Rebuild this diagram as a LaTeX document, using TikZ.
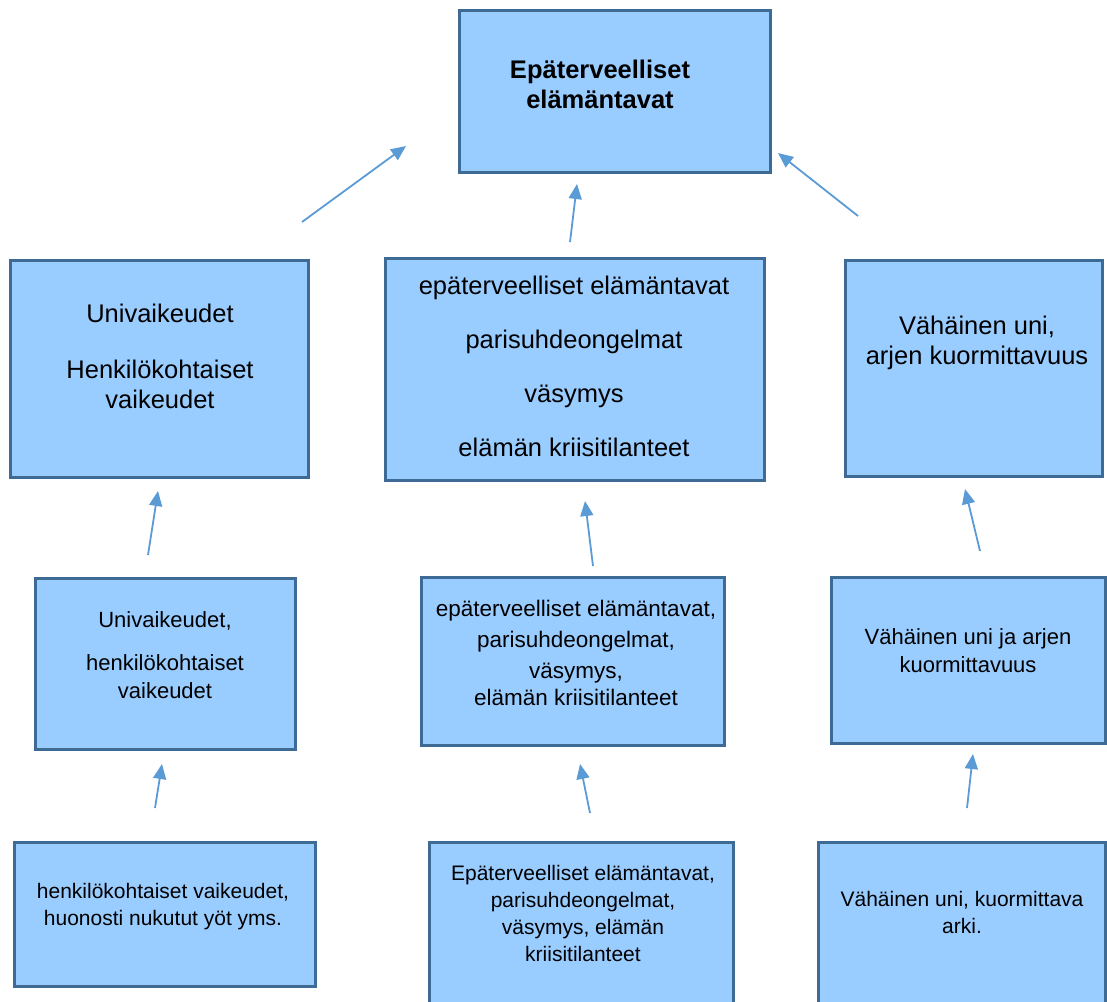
\documentclass[tikz,border=0pt]{standalone}
\usepackage{fontspec}
\setmainfont{Liberation Sans}
\usetikzlibrary{arrows.meta}
\definecolor{boxfill}{RGB}{153,204,255}
\definecolor{boxline}{RGB}{62,106,150}
\definecolor{arrowblue}{RGB}{91,155,213}
\newcommand{\fsA}{\fontsize{25.5}{30}\selectfont}
\newcommand{\fsB}{\fontsize{22}{28}\selectfont}
\newcommand{\fsC}{\fontsize{21}{27}\selectfont}
\begin{document}
\begin{tikzpicture}[x=1pt,y=-1pt,
  box/.style={draw=boxline,fill=boxfill,line width=3pt},
  txt/.style={align=center,inner sep=0pt,text=black},
  up/.style={draw=arrowblue,line width=1.8pt,-{Triangle[length=15pt,width=13pt]}}]
\useasboundingbox (0,0) rectangle (1107,1001);
\clip (0,0) rectangle (1107,1001);

% boxes
\draw[box] (459,10) rectangle (770,172);
\draw[box] (10,260) rectangle (308,477);
\draw[box] (385,258) rectangle (764,480);
\draw[box] (845,260) rectangle (1102,476);
\draw[box] (35,578) rectangle (295,749);
\draw[box] (421,577) rectangle (724,745);
\draw[box] (831,577) rectangle (1105,743);
\draw[box] (14,842) rectangle (315,986);
\draw[box] (429,842) rectangle (733,1012);
\draw[box] (818,842) rectangle (1105,1012);

% texts
\node[txt,font=\fsA\bfseries] (top) at (600,84)
  {Epäterveelliset\\elämäntavat};
\node[txt,font=\fsA] (l2) at (160,356)
  {Univaikeudet\\[26pt]Henkilökohtaiset\\vaikeudet};
\node[txt,font=\fontsize{25.5}{54}\selectfont] (m2) at (574,366)
  {epäterveelliset elämäntavat\\parisuhdeongelmat\\väsymys\\elämän kriisitilanteet};
\node[txt,font=\fsA] (r2) at (977,343)
  {Vähäinen uni,\\arjen kuormittavuus};
\node[txt,font=\fsB] (l3) at (165,655)
  {Univaikeudet,\\[15pt]henkilökohtaiset\\vaikeudet};
\node[txt,font=\fontsize{22.5}{31}\selectfont] (m3) at (576,653)
  {epäterveelliset elämäntavat,\\parisuhdeongelmat,\\väsymys,\\[-4pt]elämän kriisitilanteet};
\node[txt,font=\fsB] (r3) at (968,651)
  {Vähäinen uni ja arjen\\kuormittavuus};
\node[txt,font=\fsC] (l4) at (163,907)
  {henkilökohtaiset vaikeudet,\\huonosti nukutut yöt yms.};
\node[txt,font=\fsC] (m4) at (583,913)
  {Epäterveelliset elämäntavat,\\parisuhdeongelmat,\\väsymys, elämän\\kriisitilanteet};
\node[txt,font=\fsC] (r4) at (962,912)
  {Vähäinen uni, kuormittava\\arki.};

% arrow end points
\coordinate (a1s) at (302,222); \coordinate (a1e) at (406,146);
\coordinate (a2s) at (570,242); \coordinate (a2e) at (577,184);
\coordinate (a3s) at (858,216); \coordinate (a3e) at (778,153);
\coordinate (b1s) at (148,555); \coordinate (b1e) at (158,491);
\coordinate (b2s) at (593,566); \coordinate (b2e) at (585,501);
\coordinate (b3s) at (980,551); \coordinate (b3e) at (965,489);
\coordinate (c1s) at (155,808); \coordinate (c1e) at (162,764);
\coordinate (c2s) at (590,813); \coordinate (c2e) at (580,764);
\coordinate (c3s) at (967,808); \coordinate (c3e) at (973,754);

% arrows
\draw[up] (a1s) -- (a1e);
\draw[up] (a2s) -- (a2e);
\draw[up] (a3s) -- (a3e);
\draw[up] (b1s) -- (b1e);
\draw[up] (b2s) -- (b2e);
\draw[up] (b3s) -- (b3e);
\draw[up] (c1s) -- (c1e);
\draw[up] (c2s) -- (c2e);
\draw[up] (c3s) -- (c3e);
\end{tikzpicture}
\end{document}
